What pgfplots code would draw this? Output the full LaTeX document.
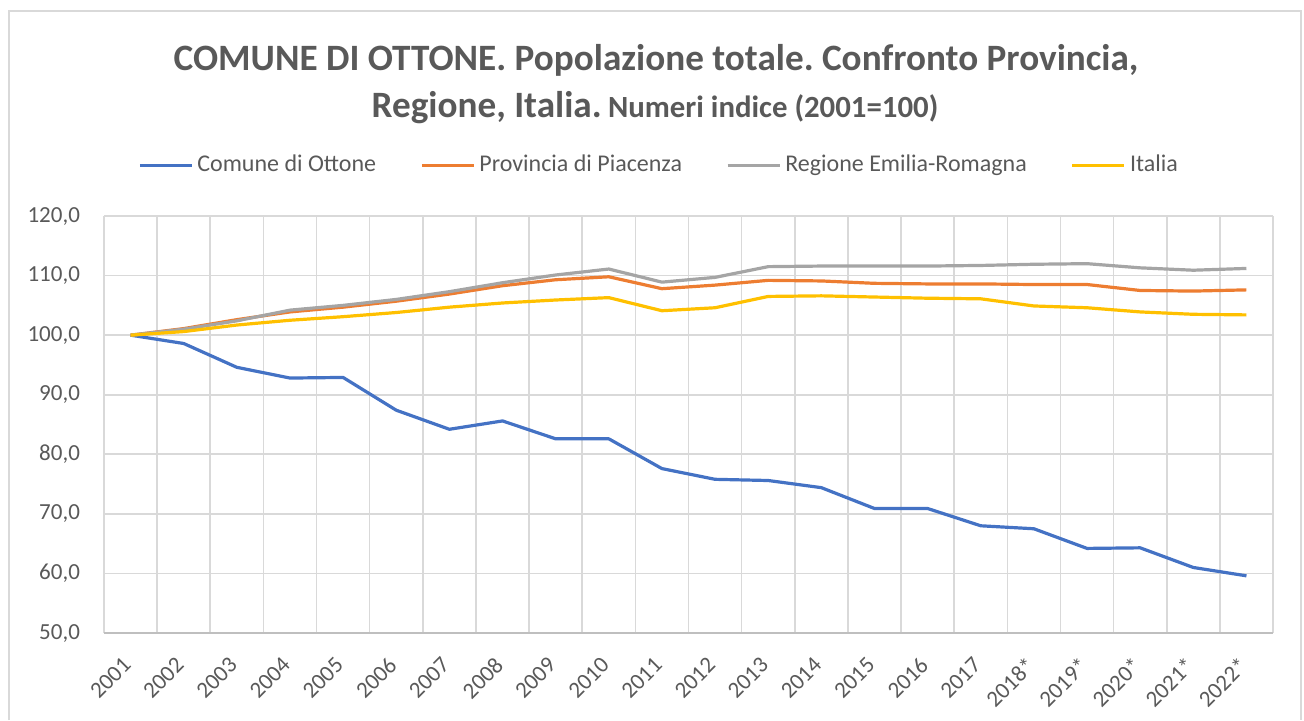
\documentclass[border=0pt]{standalone}
\usepackage{pgfplots}
\pgfplotsset{compat=1.18}
\usepackage{pgfplotstable}
\usepackage{fontspec}
\setmainfont{Carlito}
\frenchspacing
\definecolor{txt}{HTML}{595959}
\definecolor{gridc}{HTML}{D9D9D9}
\definecolor{axc}{HTML}{BFBFBF}
\definecolor{cblue}{HTML}{4472C4}
\definecolor{corange}{HTML}{ED7D31}
\definecolor{cgray}{HTML}{A5A5A5}
\definecolor{cyellow}{HTML}{FFC000}
\pgfplotstableread{
idx com prov reg ita
0 100.0 100.0 100.0 100.0
1 98.6 101.1 101.0 100.6
2 94.6 102.6 102.4 101.7
3 92.8 103.9 104.2 102.5
4 92.9 104.7 105.0 103.1
5 87.4 105.7 106.0 103.8
6 84.2 106.9 107.3 104.7
7 85.6 108.3 108.8 105.4
8 82.6 109.3 110.1 105.9
9 82.6 109.8 111.1 106.3
10 77.6 107.8 108.9 104.1
11 75.8 108.4 109.7 104.6
12 75.6 109.2 111.5 106.5
13 74.4 109.1 111.6 106.6
14 70.9 108.7 111.6 106.4
15 70.9 108.6 111.6 106.2
16 68.0 108.6 111.7 106.1
17 67.5 108.5 111.9 104.9
18 64.2 108.5 112.0 104.6
19 64.3 107.5 111.3 103.9
20 61.0 107.4 110.9 103.5
21 59.6 107.6 111.2 103.4
}\datatab
\begin{document}
\begin{tikzpicture}
\useasboundingbox (0,0) rectangle (652pt,360pt);
\draw[gridc, line width=0.9pt] (4.5pt,0) -- (4.5pt,354.5pt) -- (650.5pt,354.5pt) -- (650.5pt,0);
\node[txt, font=\fontsize{18.6}{21}\selectfont\bfseries] at (328pt,330pt) {COMUNE DI OTTONE. Popolazione totale. Confronto Provincia,};
\node[txt, font=\fontsize{18.6}{21}\selectfont\bfseries, anchor=base] at (327.5pt,301.5pt) {Regione, Italia.\hspace{-1pt} {\fontsize{15.4}{17}\selectfont Numeri indice (2001=100)}};
\begin{axis}[
  at={(52pt,43.5pt)}, anchor=south west,
  scale only axis, width=584.5pt, height=208.5pt,
  xmin=-0.5, xmax=21.5, ymin=50, ymax=120,
  xtick={0,...,21},
  xticklabels={2001,2002,2003,2004,2005,2006,2007,2008,2009,2010,2011,2012,2013,2014,2015,2016,2017,2018*,2019*,2020*,2021*,2022*},
  minor xtick={-0.5,0.5,...,21.5},
  ytick={50,60,...,120},
  major tick length=0pt, minor tick length=0pt,
  xminorgrids=true, ymajorgrids=true, xmajorgrids=false,
  grid style={gridc, line width=0.8pt},
  minor grid style={gridc, line width=0.8pt},
  axis x line*=bottom, axis y line*=left,
  x axis line style={axc, line width=0.8pt, -},
  y axis line style={draw=none},
  tick label style={txt, font=\fontsize{11.5}{13}\selectfont},
  xticklabel style={rotate=45, anchor=north east, xshift=-7.8pt, yshift=-1.4pt},
  yticklabel style={xshift=-8.5pt},
  /pgf/number format/.cd, fixed, fixed zerofill, precision=1, use comma, assume math mode=true,
  /pgfplots/.cd,
  legend columns=4,
  legend style={at={(0.4756,1.122)}, anchor=center, draw=none, fill=none,
    font=\fontsize{12}{14}\selectfont, text=txt,
    /tikz/every even column/.append style={column sep=20pt},
    /tikz/every odd column/.append style={column sep=0pt}},
  legend image code/.code={\draw[#1, line width=1.6pt] (0pt,0pt) -- (26pt,0pt);},
  every axis plot/.append style={line width=1.6pt, line join=round, no markers},
]
\addplot[cblue] table[x=idx, y=com] {\datatab};
\addlegendentry{Comune di Ottone}
\addplot[corange] table[x=idx, y=prov] {\datatab};
\addlegendentry{Provincia di Piacenza}
\addplot[cgray] table[x=idx, y=reg] {\datatab};
\addlegendentry{Regione Emilia-Romagna}
\addplot[cyellow] table[x=idx, y=ita] {\datatab};
\addlegendentry{Italia}
\end{axis}
\end{tikzpicture}
\end{document}
